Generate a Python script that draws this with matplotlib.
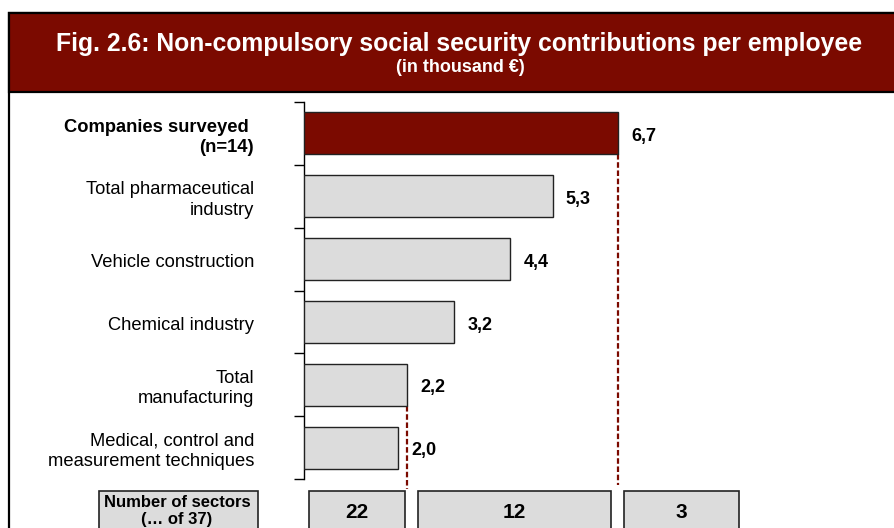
import matplotlib
matplotlib.use("Agg")
import matplotlib.pyplot as plt
from matplotlib.patches import Rectangle
from matplotlib.transforms import blended_transform_factory

plt.rcParams['font.family'] = ['Liberation Sans', 'DejaVu Sans']

# Data
categories = ["Companies surveyed \n(n=14)", "Total pharmaceutical\nindustry",
              "Vehicle construction", "Chemical industry",
              "Total\nmanufacturing", "Medical, control and\nmeasurement techniques"]
values = [6.7, 5.3, 4.4, 3.2, 2.2, 2.0]
value_labels = ["6,7", "5,3", "4,4", "3,2", "2,2", "2,0"]
sector_counts = ["22", "12", "3"]
sector_bounds = [(0.1, 2.15), (2.43, 6.55), (6.82, 9.27)]

DARK_RED = "#7B0A00"
GREY = "#DCDCDC"

W, H = 895, 528
fig = plt.figure(figsize=(W / 100, H / 100), dpi=100)

def fx(px):
    return px / W

def fy(py):
    return 1 - py / H

# Outer frame and title band
fig.patches.append(Rectangle((fx(9), fy(600)), fx(1000), fy(13) - fy(600),
                             transform=fig.transFigure, facecolor="none",
                             edgecolor="black", lw=1.6, zorder=0))
fig.patches.append(Rectangle((fx(9), fy(92)), fx(1000), fy(13) - fy(92),
                             transform=fig.transFigure, facecolor=DARK_RED,
                             edgecolor="black", lw=1.6, zorder=1))
fig.text(fx(459), fy(44), "Fig. 2.6: Non-compulsory social security contributions per employee",
         color="white", fontsize=17.8, fontweight="bold", ha="center", va="center")
fig.text(fx(460), fy(68), "(in thousand \u20ac)", color="white", fontsize=13,
         fontweight="bold", ha="center", va="center")

# Bar axes
px_per_unit = 46.9
ax_left, ax_right = 304, 895
ax = fig.add_axes([fx(ax_left), fy(479), fx(ax_right - ax_left), fy(102) - fy(479)])
ax.set_zorder(5)
ax.patch.set_visible(False)
ax.set_xlim(0, (ax_right - ax_left) / px_per_unit)
ax.set_ylim(5.5, -0.5)

n = len(values)
colors = [DARK_RED] + [GREY] * (n - 1)
bar_h = 0.67
ax.barh(range(n), values, height=bar_h, color=colors, edgecolor="#222222", lw=1.0,
        zorder=3)

text_shift = 0.05
for i, (v, lab) in enumerate(zip(values, value_labels)):
    ax.text(v + 0.28, i + text_shift, lab, fontsize=13, fontweight="bold",
            va="center", ha="left")

for side in ["top", "right", "bottom"]:
    ax.spines[side].set_visible(False)
ax.spines["left"].set_linewidth(1.0)
ax.set_xticks([])
ax.set_yticks([i - 0.5 for i in range(n + 1)])
ax.tick_params(axis="y", direction="out", length=7, width=1.0, labelleft=False)
for i, c in enumerate(categories):
    weight = "bold" if i == 0 else "normal"
    ax.text(-50 / px_per_unit, i + 0.06, c, fontsize=13.2, fontweight=weight,
            ha="right", va="center", linespacing=1.25)

# Reference lines down to the sector boxes
ax.plot([values[0], values[0]], [0 + bar_h / 2, 5.5 + 6 / 62.8], ls=(0, (2.5, 1.2)),
        color=DARK_RED, lw=1.6, clip_on=False, zorder=2)
ax.plot([values[4], values[4]], [4 + bar_h / 2, 5.5 + 10 / 62.8], ls=(0, (2.5, 1.2)),
        color=DARK_RED, lw=1.6, clip_on=False, zorder=2)

# Sector count boxes
trans = blended_transform_factory(ax.transData, fig.transFigure)
for (x0, x1), lab in zip(sector_bounds, sector_counts):
    fig.patches.append(Rectangle((x0, fy(560)), x1 - x0, fy(491) - fy(560),
                                 transform=trans, facecolor=GREY,
                                 edgecolor="#222222", lw=1.2, zorder=2))
    ax.text((x0 + x1) / 2, fy(512), lab, transform=trans, fontsize=15,
            fontweight="bold", ha="center", va="center", clip_on=False)

fig.patches.append(Rectangle((fx(99), fy(560)), fx(258) - fx(99), fy(491) - fy(560),
                             transform=fig.transFigure, facecolor=GREY,
                             edgecolor="#222222", lw=1.2, zorder=2))
fig.text(fx(177), fy(511), "Number of sectors\n(\u2026 of 37)", fontsize=12,
         fontweight="bold", ha="center", va="center", linespacing=1.1)

fig.savefig("out.png", dpi=100)
